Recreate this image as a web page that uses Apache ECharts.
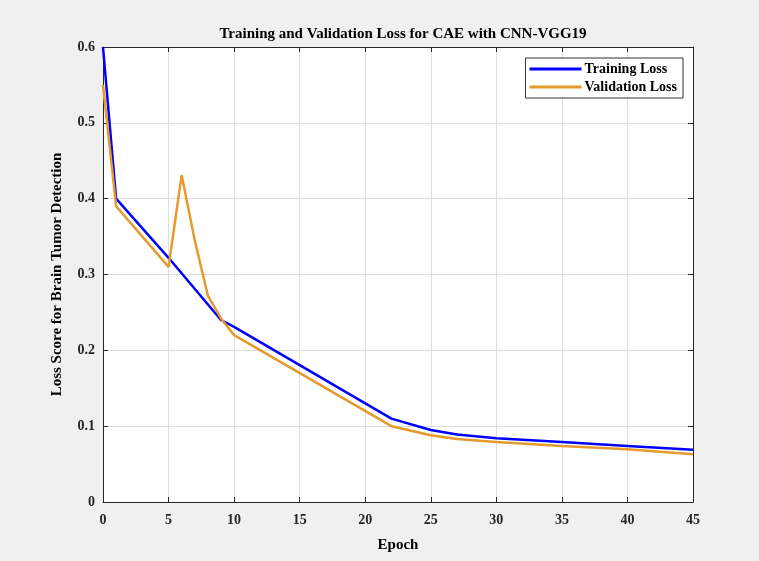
<!DOCTYPE html>
<html><head><meta charset="utf-8">
<script src="https://cdn.jsdelivr.net/npm/echarts@6/dist/echarts.min.js"></script>
<style>html,body{margin:0;padding:0;background:#f0f0f0}#c{width:759px;height:561px}</style>
</head><body><div id="c"></div>
<script>
const trainEpochs = [0, 1, 5, 9, 10, 22, 25, 27, 30, 35, 40, 45];
const trainLoss   = [0.60, 0.40, 0.322, 0.240, 0.231, 0.110, 0.095, 0.089, 0.084, 0.079, 0.074, 0.069];
const valEpochs   = [0, 1, 5, 6, 7, 8, 9, 10, 22, 25, 27, 30, 35, 40, 45];
const valLoss     = [0.55, 0.39, 0.310, 0.431, 0.345, 0.272, 0.242, 0.220, 0.100, 0.088, 0.083, 0.079, 0.074, 0.0695, 0.063];
const xTicks = [0, 5, 10, 15, 20, 25, 30, 35, 40, 45];
const yTicks = [0, 0.1, 0.2, 0.3, 0.4, 0.5, 0.6];

const font = 'Liberation Serif';
const chart = echarts.init(document.getElementById('c'));
const pairs = (xs, ys) => xs.map((x, i) => [x, ys[i]]);
const axisLineStyle = {show: true, onZero: false, lineStyle: {color: '#262626', width: 1}};
const tick = {show: true, inside: true, length: 5, lineStyle: {color: '#262626'}};
chart.setOption({
  backgroundColor: '#f0f0f0',
  animation: false,
  title: {text: 'Training and Validation Loss for CAE with CNN-VGG19', left: 398, top: 22, textAlign: 'center',
    textStyle: {fontFamily: font, fontWeight: 'bold', fontSize: 15, color: '#000'}},
  legend: {
    right: 76, top: 58, orient: 'vertical', itemGap: 4, itemWidth: 52, itemHeight: 3,
    backgroundColor: '#fff', borderColor: '#333', borderWidth: 1, padding: [4, 6, 4, 4],
    textStyle: {fontFamily: font, fontWeight: 'bold', fontSize: 14, color: '#000', padding: [0, 0, 0, -2]},
    data: [{name: 'Training Loss', icon: 'rect'}, {name: 'Validation Loss', icon: 'rect'}]
  },
  grid: {left: 103, right: 66, top: 47, bottom: 59, show: true, backgroundColor: '#fff', borderWidth: 0},
  xAxis: [{
    type: 'value', min: 0, max: 45, interval: 5,
    name: 'Epoch', nameLocation: 'middle', nameGap: 36,
    nameTextStyle: {fontFamily: font, fontWeight: 'bold', fontSize: 15, color: '#000'},
    axisLine: axisLineStyle, axisTick: tick,
    axisLabel: {fontFamily: font, fontWeight: 'bold', fontSize: 14, color: '#262626', margin: 11,
      formatter: v => xTicks.includes(v) ? String(v) : ''},
    splitLine: {show: true, lineStyle: {color: '#dedede', width: 1}}
  }, {
    type: 'value', position: 'top', min: 0, max: 45, interval: 5,
    axisLine: axisLineStyle, axisTick: tick,
    axisLabel: {show: false}, splitLine: {show: false}
  }],
  yAxis: [{
    type: 'value', min: 0, max: 0.6, interval: 0.1,
    name: 'Loss Score for Brain Tumor Detection', nameLocation: 'middle', nameGap: 38,
    nameTextStyle: {fontFamily: font, fontWeight: 'bold', fontSize: 15, color: '#000'},
    axisLine: axisLineStyle, axisTick: tick,
    axisLabel: {fontFamily: font, fontWeight: 'bold', fontSize: 14, color: '#262626', margin: 8,
      formatter: v => { const t = yTicks.find(y => Math.abs(y - v) < 1e-9); return t === undefined ? '' : (t === 0 ? '0' : t.toFixed(1)); }},
    splitLine: {show: true, lineStyle: {color: '#dedede', width: 1}}
  }, {
    type: 'value', position: 'right', min: 0, max: 0.6, interval: 0.1,
    axisLine: axisLineStyle, axisTick: tick,
    axisLabel: {show: false}, splitLine: {show: false}
  }],
  series: [{
    name: 'Training Loss', type: 'line', data: pairs(trainEpochs, trainLoss),
    symbol: 'none', lineStyle: {color: '#0000ff', width: 2.5}, itemStyle: {color: '#0000ff'}, z: 3
  }, {
    name: 'Validation Loss', type: 'line', data: pairs(valEpochs, valLoss),
    symbol: 'none', lineStyle: {color: '#e59a2c', width: 2.5}, itemStyle: {color: '#e59a2c'}, z: 4
  }]
});
</script></body></html>
